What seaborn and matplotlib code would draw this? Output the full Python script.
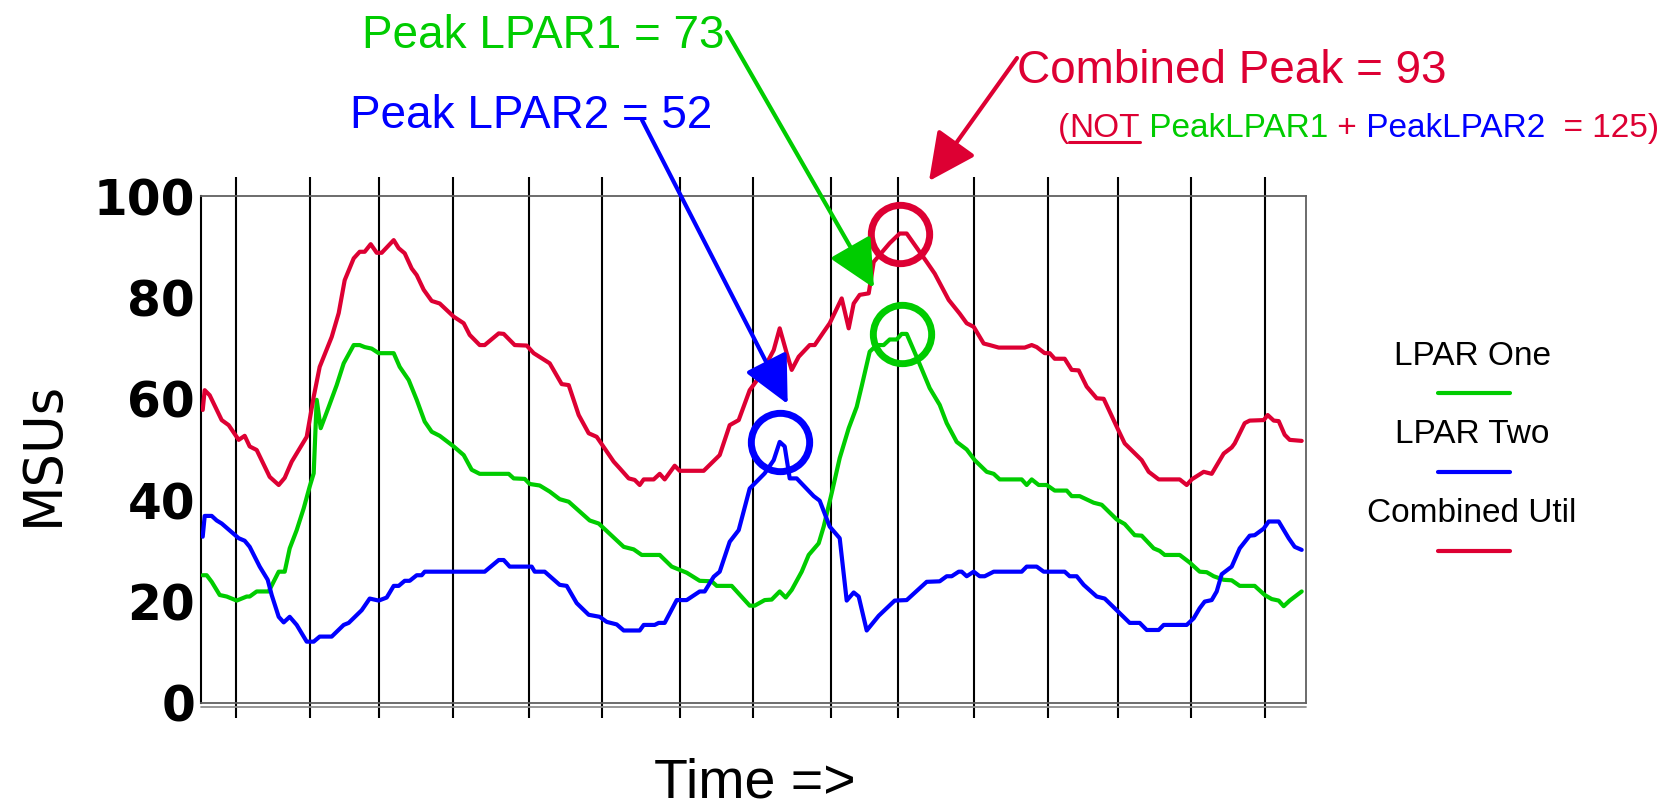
import numpy as np
import pandas as pd
import matplotlib
matplotlib.use('Agg')
import matplotlib.pyplot as plt
import matplotlib.transforms as mtransforms
from matplotlib.patches import ArrowStyle
from matplotlib.lines import Line2D
import seaborn as sns

# time in sample steps (0 .. 1105), MSU readings per series
lpar1_t = [2, 6, 11, 19, 26, 36, 46, 49, 56, 68, 78, 84, 89, 96, 103, 109, 113, 116, 120, 128,
           136, 143, 153, 159, 164, 171, 178, 193, 199, 208, 216, 224, 231, 239, 253, 263, 271, 279,
           308, 313, 324, 329, 339, 349, 359, 368, 389, 398, 423, 433, 441, 459, 471, 486, 499, 511,
           516, 531, 549, 554, 564, 571, 579, 585, 591, 601, 608, 618, 623, 631, 639, 648, 656, 661,
           669, 676, 683, 689, 696, 701, 706, 718, 729, 739, 746, 756, 766, 774, 786, 793, 799, 821,
           826, 831, 838, 846, 854, 866, 871, 879, 893, 901, 916, 924, 934, 941, 953, 959, 964, 979,
           989, 999, 1006, 1013, 1023, 1031, 1039, 1054, 1064, 1071, 1078, 1083, 1089, 1101]
lpar1_msu = [25.2, 25.2, 23.9, 21.3, 21.0, 20.2, 21.0, 21.0, 22.0, 22.0, 25.9, 25.9, 30.5, 34.1,
             38.4, 42.7, 45.3, 59.8, 54.2, 58.4, 62.7, 67.0, 70.6, 70.6, 70.2, 69.9, 69.0, 69.0,
             66.3, 63.7, 59.8, 55.5, 53.5, 52.7, 50.6, 48.9, 46.0, 45.2, 45.2, 44.3, 44.2, 43.2,
             42.9, 41.7, 40.2, 39.7, 36.0, 35.4, 30.8, 30.3, 29.2, 29.2, 26.9, 25.7, 24.1, 24.0,
             23.1, 23.1, 19.2, 19.2, 20.3, 20.4, 22.0, 20.8, 22.3, 25.9, 29.2, 31.5, 34.8, 41.4,
             48.3, 54.2, 58.4, 62.5, 69.3, 70.6, 70.6, 71.7, 71.7, 72.8, 72.8, 67.3, 62.1, 58.8,
             55.2, 51.5, 50.0, 47.9, 45.6, 45.2, 44.1, 44.1, 43.0, 44.1, 43.0, 43.0, 41.9, 41.9,
             40.8, 40.8, 39.5, 39.1, 36.2, 35.3, 33.1, 33.0, 30.5, 30.0, 29.2, 29.2, 27.7, 25.9,
             25.8, 25.0, 24.3, 24.2, 23.1, 23.1, 21.3, 20.5, 20.2, 19.1, 20.2, 22.0]

lpar2_t = [2, 4, 11, 16, 21, 38, 44, 49, 59, 67, 71, 78, 83, 89, 96, 106, 113, 119, 131, 143,
           148, 161, 169, 178, 186, 193, 198, 204, 209, 216, 221, 224, 284, 298, 303, 309, 331, 334,
           344, 359, 366, 376, 388, 399, 406, 416, 423, 439, 443, 454, 458, 464, 476, 486, 499, 504,
           513, 519, 529, 538, 549, 564, 573, 579, 584, 589, 596, 613, 619, 629, 639, 646, 653, 658,
           666, 678, 694, 706, 726, 739, 746, 751, 758, 761, 766, 773, 779, 784, 793, 821, 826, 836,
           843, 864, 869, 876, 883, 896, 904, 916, 929, 939, 946, 958, 963, 986, 993, 999, 1004,
           1011, 1016, 1021, 1031, 1039, 1049, 1054, 1063, 1068, 1078, 1088, 1094, 1101]
lpar2_msu = [32.8, 36.9, 36.9, 36.0, 35.4, 32.5, 32.0, 30.8, 26.9, 24.3, 21.3, 17.0, 15.9, 17.0,
             15.4, 12.1, 12.1, 13.1, 13.1, 15.4, 15.8, 18.3, 20.6, 20.2, 20.8, 23.1, 23.1, 24.1,
             24.1, 25.2, 25.2, 25.9, 25.9, 28.2, 28.2, 26.9, 26.9, 25.9, 25.9, 23.3, 23.1, 19.7,
             17.4, 17.0, 16.0, 15.5, 14.3, 14.3, 15.4, 15.4, 15.8, 15.8, 20.3, 20.3, 22.0, 22.0,
             24.9, 25.9, 31.8, 34.1, 42.3, 45.3, 47.9, 51.5, 50.6, 44.3, 44.3, 40.8, 39.9, 34.8,
             32.5, 20.2, 21.8, 21.0, 14.3, 17.2, 20.2, 20.3, 23.9, 24.0, 25.0, 25.0, 25.9, 25.9,
             25.0, 25.9, 25.0, 25.0, 25.9, 25.9, 26.9, 26.9, 25.9, 25.9, 25.0, 25.0, 23.3, 21.0,
             20.6, 18.3, 15.8, 15.8, 14.4, 14.4, 15.4, 15.4, 16.7, 18.7, 20.0, 20.3, 22.0, 25.4,
             26.9, 30.5, 33.0, 33.1, 34.4, 35.8, 35.8, 32.5, 30.8, 30.2]

combined_t = [2, 4, 9, 21, 28, 38, 44, 49, 56, 69, 78, 84, 91, 106, 113, 119, 131, 138, 144, 153,
              159, 164, 170, 176, 181, 193, 198, 204, 211, 216, 223, 231, 239, 253, 263, 269, 279,
              284, 298, 303, 314, 326, 333, 349, 361, 368, 378, 388, 396, 413, 419, 428, 434, 439,
              443, 453, 459, 464, 474, 479, 503, 519, 529, 538, 549, 559, 573, 579, 586, 591, 598,
              609, 614, 623, 629, 641, 648, 653, 659, 668, 673, 689, 699, 706, 726, 734, 748, 759,
              766, 773, 783, 789, 798, 824, 831, 836, 844, 849, 854, 864, 871, 878, 886, 896, 903,
              916, 924, 941, 948, 958, 979, 986, 991, 1003, 1011, 1023, 1031, 1034, 1044, 1049,
              1063, 1067, 1073, 1078, 1084, 1089, 1101]
combined_msu = [57.8, 61.7, 60.7, 55.8, 54.8, 51.9, 52.7, 50.6, 49.9, 44.6, 43.0, 44.4, 47.6,
                52.5, 60.4, 66.3, 72.2, 76.9, 83.4, 87.7, 89.0, 89.0, 90.5, 88.8, 88.8, 91.3,
                89.7, 88.7, 85.7, 84.4, 81.5, 79.3, 78.8, 76.2, 74.9, 72.6, 70.6, 70.6, 72.9,
                72.8, 70.6, 70.5, 69.0, 67.0, 62.9, 62.7, 56.8, 53.2, 52.5, 47.6, 46.3, 44.3,
                44.0, 43.0, 44.1, 44.1, 45.2, 44.1, 46.8, 45.8, 45.8, 48.9, 54.8, 55.8, 61.7,
                64.4, 69.6, 73.9, 69.0, 65.7, 68.3, 70.6, 70.6, 73.2, 74.9, 79.8, 73.9, 78.8,
                80.5, 80.8, 87.0, 90.7, 92.6, 92.6, 87.0, 84.7, 79.5, 76.8, 74.9, 74.2, 70.9,
                70.6, 70.1, 70.1, 70.6, 70.2, 69.0, 69.0, 67.9, 67.9, 65.7, 65.6, 62.4, 60.1,
                60.0, 54.5, 51.2, 47.9, 45.6, 44.1, 44.1, 43.0, 44.1, 45.6, 45.2, 49.2, 50.4,
                51.2, 55.2, 55.7, 55.8, 56.8, 55.7, 55.6, 52.9, 51.9, 51.7]

series_names = ['LPAR One', 'LPAR Two', 'Combined Util']
series_colors = ['#00CC00', '#0000FF', '#DD0033']
peak_values = [73, 52, 93]

# hour marks on the time axis
grid_t = [35, 109, 178, 252, 328, 401, 479, 552, 630, 697, 773, 847, 917, 990, 1064]
t_end = 1105
y_ticks = [0, 20, 40, 60, 80, 100]

df = pd.concat([
    pd.DataFrame({'t': lpar1_t, 'msu': lpar1_msu, 'series': series_names[0]}),
    pd.DataFrame({'t': lpar2_t, 'msu': lpar2_msu, 'series': series_names[1]}),
    pd.DataFrame({'t': combined_t, 'msu': combined_msu, 'series': series_names[2]}),
])
palette = dict(zip(series_names, series_colors))

sns.set_style('white')
plt.rcParams['font.family'] = ['Liberation Sans', 'DejaVu Sans']
plt.rcParams['text.color'] = 'black'
plt.rcParams['ytick.color'] = 'black'

W, H = 1669, 807
fig = plt.figure(figsize=(W / 100, H / 100), dpi=100)
ax = fig.add_axes([200.7 / W, 1 - 703 / H, 1105 / W, 507 / H])

# vertical hour lines, poking out above and below the frame
ax.vlines(grid_t, -0.03, 1.037, transform=ax.get_xaxis_transform(),
          colors='black', lw=1.5, clip_on=False, zorder=1)

sns.lineplot(data=df, x='t', y='msu', hue='series', hue_order=series_names,
             palette=palette, estimator=None, sort=False, lw=3, legend=False,
             ax=ax, zorder=3)

ax.set_xlim(0, t_end)
ax.set_ylim(0, 100)
ax.set_xticks([])
ax.set_yticks(y_ticks)
ax.tick_params(axis='y', length=0, pad=4, labelcolor='black')
for lab in ax.get_yticklabels():
    lab.set_fontfamily('DejaVu Sans')
    lab.set_fontweight('bold')
    lab.set_fontsize(35)
    lab.set_color('black')
ax.set_xlabel('')
ax.set_ylabel('')

ax.spines['left'].set_color('black')
ax.spines['left'].set_linewidth(1.5)
for side in ['top', 'right']:
    ax.spines[side].set_color('#606060')
    ax.spines[side].set_linewidth(1.3)
ax.spines['bottom'].set_color('#606060')
ax.spines['bottom'].set_linewidth(1.3)
ax.add_line(Line2D([0, 1], [-0.007, -0.007], transform=ax.transAxes,
                   color='#909090', lw=1.3, clip_on=False))

fig.text(43 / W, 1 - 453 / H, 'MSUs', rotation=90, ha='center', va='center',
         fontsize=38, fontfamily='DejaVu Sans', color='black')
fig.text(755 / W, 1 - 797 / H, 'Time =>', ha='center', va='baseline', fontsize=40,
         color='black')

# peak circles and arrows
series_t = [lpar1_t, lpar2_t, combined_t]
series_v = [lpar1_msu, lpar2_msu, combined_msu]
tip_offsets = [(-27.7, 45.9), (8, 37.9), (29.3, 52.5)]      # dots from the peak
arrow_starts = [(727, 32), (642, 120), (1017, 58)]           # pixels from top-left
head = ArrowStyle('-|>', head_length=29.5, head_width=14.4)
for ts, vs, col, (dx, dy), (sx, sy) in zip(series_t, series_v, series_colors,
                                          tip_offsets, arrow_starts):
    i = int(np.argmax(vs))
    ax.plot(ts[i], vs[i], 'o', ms=42, mfc='none', mec=col, mew=5,
            clip_on=False, zorder=4)
    tip_tr = mtransforms.offset_copy(ax.transData, fig=fig, x=dx, y=dy, units='dots')
    ax.annotate('', xy=(ts[i], vs[i]), xycoords=tip_tr,
                xytext=(sx, H - sy), textcoords='figure pixels',
                arrowprops=dict(arrowstyle=head, mutation_scale=1, color=col,
                                lw=3, shrinkA=0, shrinkB=0),
                annotation_clip=False, zorder=5)

fig.text(362 / W, 1 - 48 / H, f'Peak LPAR1 = {peak_values[0]}', color=series_colors[0],
         fontsize=33, va='baseline')
fig.text(350 / W, 1 - 128 / H, f'Peak LPAR2 = {peak_values[1]}', color=series_colors[1],
         fontsize=33, va='baseline')
fig.text(1017 / W, 1 - 83 / H, f'Combined Peak = {peak_values[2]}', color=series_colors[2],
         fontsize=33, va='baseline')

# multi-coloured note line
red, green, blue = series_colors[2], series_colors[0], series_colors[1]
pieces = [('(', red), ('NOT', red), (' PeakLPAR1', green), (' +', red),
          (' PeakLPAR2', blue), ('  = ' + str(peak_values[0] + peak_values[1]) + ')', red)]
fig.canvas.draw()
renderer = fig.canvas.get_renderer()
x = 1058
base_y = H - 137
for s, c in pieces:
    t = fig.text(x / W, base_y / H, s, color=c, fontsize=24, va='baseline')
    bb = t.get_window_extent(renderer)
    if s == 'NOT':
        fig.add_artist(Line2D([bb.x0 / W, bb.x1 / W], [(base_y - 5) / H] * 2,
                              transform=fig.transFigure, color=red, lw=2.2))
    x = bb.x1

# legend: label above a line sample
legend_rows = [(365, 392.7), (443.3, 471.7), (521.7, 550.5)]
for name, col, (ty, ly) in zip(series_names, series_colors, legend_rows):
    fig.text(1472 / W, 1 - ty / H, name, ha='center', va='baseline', fontsize=24,
             color='black')
    fig.add_artist(Line2D([1438 / W, 1510 / W], [1 - ly / H] * 2, transform=fig.transFigure,
                          color=col, lw=3, solid_capstyle='round'))

fig.savefig('out.png', dpi=100)
